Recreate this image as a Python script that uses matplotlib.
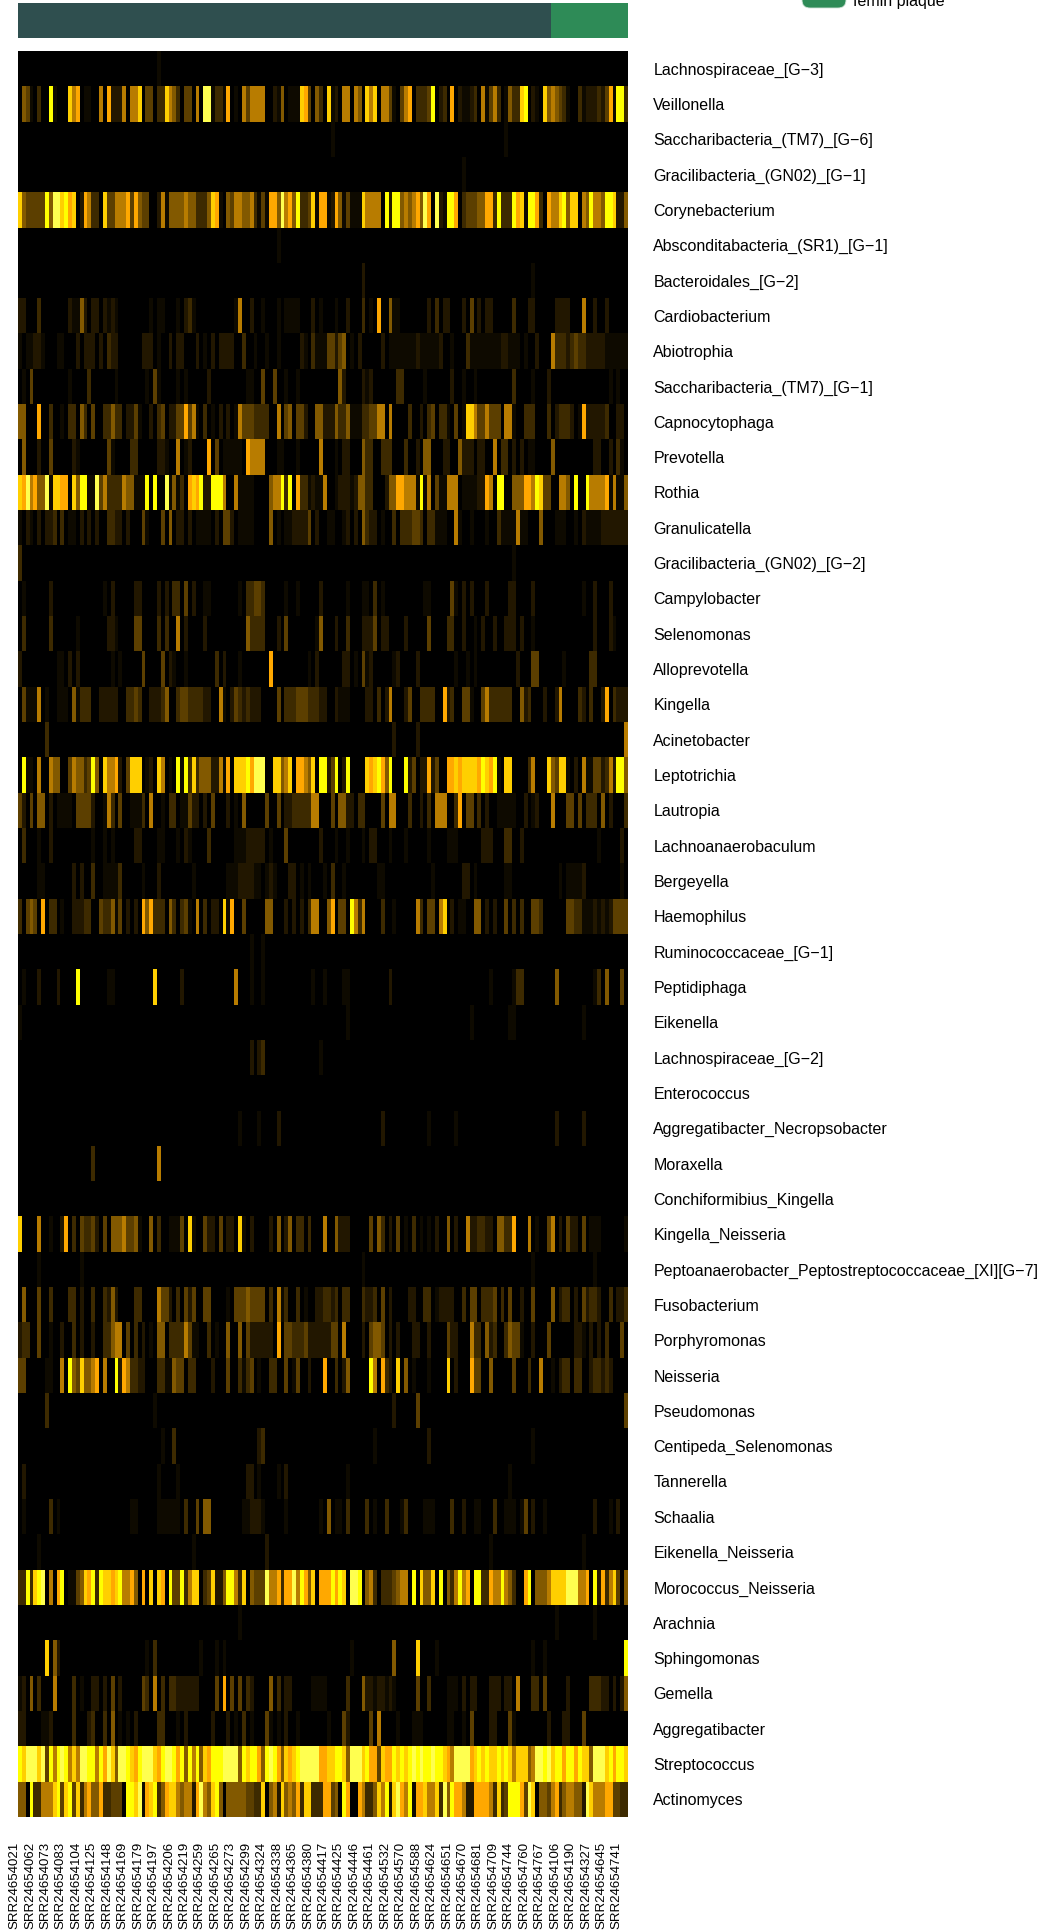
from matplotlib import pyplot as plt
from matplotlib.colors import LinearSegmentedColormap, ListedColormap
from matplotlib.patches import FancyBboxPatch
from matplotlib.transforms import ScaledTranslation
import numpy as np

plt.rcParams['font.family'] = ['Liberation Sans', 'DejaVu Sans']

W, H = 1054, 1932
N_COLS = 158

genera = ['Lachnospiraceae_[G−3]', 'Veillonella', 'Saccharibacteria_(TM7)_[G−6]', 'Gracilibacteria_(GN02)_[G−1]',
	'Corynebacterium', 'Absconditabacteria_(SR1)_[G−1]', 'Bacteroidales_[G−2]', 'Cardiobacterium', 'Abiotrophia',
	'Saccharibacteria_(TM7)_[G−1]', 'Capnocytophaga', 'Prevotella', 'Rothia', 'Granulicatella',
	'Gracilibacteria_(GN02)_[G−2]', 'Campylobacter', 'Selenomonas', 'Alloprevotella', 'Kingella', 'Acinetobacter',
	'Leptotrichia', 'Lautropia', 'Lachnoanaerobaculum', 'Bergeyella', 'Haemophilus', 'Ruminococcaceae_[G−1]',
	'Peptidiphaga', 'Eikenella', 'Lachnospiraceae_[G−2]', 'Enterococcus', 'Aggregatibacter_Necropsobacter',
	'Moraxella', 'Conchiformibius_Kingella', 'Kingella_Neisseria', 'Peptoanaerobacter_Peptostreptococcaceae_[XI][G−7]',
	'Fusobacterium', 'Porphyromonas', 'Neisseria', 'Pseudomonas', 'Centipeda_Selenomonas', 'Tannerella', 'Schaalia',
	'Eikenella_Neisseria', 'Morococcus_Neisseria', 'Arachnia', 'Sphingomonas', 'Gemella', 'Aggregatibacter',
	'Streptococcus', 'Actinomyces']

sample_labels = ['SRR24654021', 'SRR24654062', 'SRR24654073', 'SRR24654083', 'SRR24654104', 'SRR24654125', 'SRR24654148',
	'SRR24654169', 'SRR24654179', 'SRR24654197', 'SRR24654206', 'SRR24654219', 'SRR24654259', 'SRR24654265',
	'SRR24654273', 'SRR24654299', 'SRR24654324', 'SRR24654338', 'SRR24654365', 'SRR24654380', 'SRR24654417',
	'SRR24654425', 'SRR24654446', 'SRR24654461', 'SRR24654532', 'SRR24654570', 'SRR24654588', 'SRR24654624',
	'SRR24654651', 'SRR24654670', 'SRR24654681', 'SRR24654709', 'SRR24654744', 'SRR24654760', 'SRR24654767',
	'SRR24654106', 'SRR24654190', 'SRR24654327', 'SRR24654645', 'SRR24654741']

# group annotation on top: samples per group
group_counts = [138, 20]
group_colors = ['#2f4f4f', '#2e8b57']

# intensity read by eye, one hex digit per sample (0 = black, a = palest yellow), blocks of ten samples
dense = {
	'Veillonella': '0541030091 0008670110 0607222606 6804403386 53044060aa 1331701064 6666002150 1118740530 8120660650 8680664104 6703334902 3070211230 6146301533 8902108565 4310031222 32471993',
	'Corynebacterium': '854444495a a897802763 3084466674 7544002615 5556553335 8710546655 63141775a6 7593348177 1275141118 6666092995 65675a70a2 1997034445 5773933397 8199730766 8958806596 65998225',
	'Cardiobacterium': '2200030000 0002115202 2021210000 0000101100 0102310000 0000001600 2001000101 1110002010 0010020003 0107005110 0000002030 2200020402 0220000030 0022000002 2220006002 00200000',
	'Abiotrophia': '1011221000 1100020222 0203220000 0022201002 0220002010 2022220030 0100100100 0002103111 4424501020 0000201111 1112111112 0010003111 1111122111 0100200063 3323433222 22111111',
	'Saccharibacteria_(TM7)_[G−1]': '0104000000 0001000030 0000010000 0001041000 0101000002 0000000001 1004004001 0010000000 0005200002 1200000033 0000010000 0020010010 0000000030 0001000200 0000000000 00010100',
	'Capnocytophaga': '5500070030 0103305304 0033533022 4100203402 2447461030 1020201644 4333300604 5044200552 2253351113 3446606000 0300203403 3104018864 4644406610 0333000302 3332017222 22300220',
	'Prevotella': '0500020040 0000210000 0004100003 3000002210 0601200007 0401111107 6666000110 0010000060 0010220005 3300333000 3002055000 2200522202 2006033020 2011000050 0000000002 20020310',
	'Rothia': '87a6755a18 8770859911 a463333655 11190900a1 5130787922 9996006111 1000056693 9073312116 0012221255 3300025577 6661916041 1666011112 2760990055 5776984400 6650900966 66716115',
	'Granulicatella': '1021020223 0301102020 2003322020 0041000405 0220201111 0204420111 1000050101 1222240200 1100120205 3220100303 3344303311 1006100100 0100311116 1100050001 1100102111 12222222',
	'Campylobacter': '0100000020 0000000000 0010200000 2200002020 3304020011 0000000103 3443000001 0010000020 0000010001 1030100000 0000011000 0041020200 0200000220 0002000000 0000001002 00020000',
	'Selenomonas': '0300000030 0000010000 0002210000 4400003030 0602000020 0000000005 3333000204 0000000150 0020030002 2240220000 2000004000 0330020010 2002002220 2001000000 0000000002 00021000',
	'Alloprevotella': '2000000000 1102020000 0000101000 0040000402 1001000000 0302000100 0000070000 0000010200 0000220104 1200000120 0002000000 0001001010 0000000002 0004400000 0100000033 00000000',
	'Kingella': '0411160100 1110513330 0222220033 4300222350 0344333322 0061024323 2220000403 3344433322 0021110000 2203026000 2400333300 7230044100 4633333300 5230002002 6000032030 02703222',
	'Leptotrichia': '0911060065 5004655349 5086672048 8801208601 0919383555 2261708889 7aaa008856 8077658099 2490290000 8789759000 9240227240 0778788887 9879108800 0036000854 8810206114 42362995',
	'Lautropia': '4204055020 1111044442 0016304001 1130600103 3011422020 4000201050 0000400402 2333336600 0405522033 0000406600 0300203066 6003704403 0200111110 0201200060 0044040333 05020003',
	'Lachnoanaerobaculum': '0300010020 0000000001 0010100000 2200001100 0102100003 0000001112 2222010004 0000000020 0010010001 0220001000 1000001000 0111000000 2220003300 2000000000 0000000000 10000020',
	'Bergeyella': '0000011000 0000202003 0011113000 0010002000 0000010000 0000111222 2110121000 2201010001 0300100000 0001100000 0000000100 0000022010 0000001100 0000000000 1011112000 00000010',
	'Haemophilus': '3045407033 0100222330 0433514020 2075733305 3034106030 2208170040 0000550002 0202036600 5704409636 0000300100 0006304406 8020110055 0202004030 3004430000 0044331112 12124444',
	'Peptidiphaga': '0100020000 2000090000 0001100000 0000080000 0020000000 0000006000 1001000000 0000001001 0000110000 0000002000 0000000000 0000000000 0010000013 3000000005 0000000001 30500040',
	'Kingella_Neisseria': '8000060010 0270304334 2040555644 5100503001 1140810042 2040220810 2000020502 5033030006 0052220000 0405302040 1030101020 0502006223 3220553370 0060100460 2042204011 10000001',
	'Fusobacterium': '0500040030 0003302003 0032520000 3300006442 0304240044 0000104445 4444030613 0030100223 3230330003 2230402000 0220033012 2220030440 3334030400 2004000050 2330204233 20030223',
	'Porphyromonas': '2330040010 0200302002 0033566040 3020105503 3336411003 0100500504 2222220704 4333422222 2440600002 0455402020 0022002000 0422000633 0523003544 1002000400 0000221020 20300040',
	'Neisseria': '4400000110 0609548556 7060092763 3220003311 5440330000 2000400313 4010033004 0140020007 0030250000 0960732080 5010001000 0802000744 0050000040 0030060010 2330330023 32320000',
	'Schaalia': '0100000030 1000000000 0000000001 1000001111 1103004055 0000000011 2221000001 0000000010 5011030000 3010030001 3000011100 0030020011 0003001110 1402001000 0000000002 00010200',
	'Morococcus_Neisseria': '339389a060 7901145879 3988789667 5070808709 4493688034 8225996380 5444a66737 7a69758077 797980aa90 5630333456 6090855809 0536967099 3376696530 0790555688 88aaa66709 27368405',
	'Gemella': '1205030006 0000301002 2020402000 0043060303 3222222000 0407040403 2000050302 2000001111 0000030005 2212212100 0004003000 0111020220 0022202206 0003304000 0020000033 32202025',
	'Aggregatibacter': '2200001120 0000300023 0030501010 2000003300 0102000000 2000201030 1000410102 0010000000 1000420000 0406000010 0011100000 0110010400 0022000410 0000000200 0220004000 00000000',
	'Streptococcus': '98aaa8a496 9a9686aa99 697a85aa98 79aaa879aa 9795969587 999aaaa598 99759a9758 789aaaaa77 889985aaa8 9774877989 89a9a99a99 876aaaa789 8988989868 8856aa9a89 979979885a aa897998',
	'Actinomyces': '5509336668 9489483675 5733444099 8a17893578 8656627a65 8950555554 4338056285 6573883337 7450970076 33586928a7 6917786683 a597762277 7763834999 74a8055467 3566552a86 66774433',
}

# rows that are nearly empty: sample index -> intensity
sparse = {
	'Lachnospiraceae_[G−3]': {36: 1},
	'Saccharibacteria_(TM7)_[G−6]': {81: 1, 126: 1},
	'Gracilibacteria_(GN02)_[G−1]': {115: 1},
	'Absconditabacteria_(SR1)_[G−1]': {67: 1},
	'Bacteroidales_[G−2]': {89: 2, 133: 1},
	'Gracilibacteria_(GN02)_[G−2]': {0: 3, 128: 1},
	'Acinetobacter': {7: 3, 97: 2, 103: 2, 157: 6},
	'Ruminococcaceae_[G−1]': {60: 1, 63: 1},
	'Eikenella': {0: 1, 85: 1, 117: 1, 127: 1, 128: 1, 146: 1},
	'Lachnospiraceae_[G−2]': {60: 2, 62: 2, 63: 3, 78: 1},
	'Aggregatibacter_Necropsobacter': {57: 1, 62: 1, 67: 2, 94: 2, 106: 1, 113: 1, 139: 2, 146: 2},
	'Moraxella': {19: 3, 36: 6},
	'Peptoanaerobacter_Peptostreptococcaceae_[XI][G−7]': {5: 1, 16: 1, 89: 1, 133: 1, 149: 1},
	'Pseudomonas': {7: 3, 35: 1, 97: 2, 103: 4, 157: 4},
	'Centipeda_Selenomonas': {37: 1, 40: 3, 62: 2, 63: 3, 92: 1, 106: 2, 133: 1},
	'Tannerella': {1: 2, 36: 1, 41: 1, 59: 2, 60: 2, 62: 1, 67: 1, 69: 2, 85: 1, 127: 1},
	'Eikenella_Neisseria': {5: 1, 45: 1, 64: 2, 122: 1, 146: 1},
	'Arachnia': {57: 1, 139: 1, 149: 1},
	'Sphingomonas': {7: 8, 9: 5, 10: 2, 33: 1, 35: 3, 47: 1, 51: 1, 53: 1, 86: 1, 97: 5, 103: 8, 108: 1, 133: 1, 136: 1, 157: 9},
}

level_colors = ['#000000', '#0e0a00', '#221700', '#3d2a00', '#5c3f00', '#825900',
	'#b87c00', '#ffa800', '#ffcf00', '#ffff00', '#ffff50']

matrix = np.zeros((len(genera), N_COLS))
for i, name in enumerate(genera):
	if name in dense:
		digits = [int(c, 16) for c in dense[name].replace(' ', '')][:N_COLS]
		matrix[i, :len(digits)] = digits
	for col, level in sparse.get(name, {}).items():
		matrix[i, col] = level

groups = np.repeat(range(len(group_counts)), group_counts)


def box(left, top, right, bottom):
	# pixel box to figure fraction
	return [left / W, 1 - bottom / H, (right - left) / W, (bottom - top) / H]


fig = plt.figure(figsize=(W / 100, H / 100), dpi=100)

# top annotation bar
ax_top = fig.add_axes(box(18, 3, 628, 38))
ax_top.imshow(groups[np.newaxis, :], aspect='auto', interpolation='nearest', cmap=ListedColormap(group_colors))
ax_top.axis('off')

# heatmap
ax = fig.add_axes(box(18, 51, 628, 1817))
ax.imshow(matrix, aspect='auto', interpolation='nearest', vmin=0, vmax=10,
	cmap=LinearSegmentedColormap.from_list('heat', level_colors, N=11))
for s in ax.spines.values():
	s.set_visible(False)

ax.yaxis.tick_right()
ax.set_yticks(range(len(genera)))
ax.set_yticklabels(genera, fontsize=11.5)
ax.tick_params(axis='y', length=0, pad=18.3)

ax.set_xticks(np.arange(len(sample_labels)) * 4)
ax.set_xticklabels(sample_labels, rotation=90, fontsize=9.5, color='black')
ax.tick_params(axis='x', length=0, pad=18)
ax.set_xlim(-0.5, N_COLS - 0.5)

# sample labels sit a little left of their columns
shift = ScaledTranslation(-5.4 / 100, 0, fig.dpi_scale_trans)
for label in ax.get_xticklabels():
	label.set_transform(label.get_transform() + shift)

# legend sits partly off the top edge of the figure
overlay = fig.add_axes([0, 0, 1, 1], facecolor='none')
overlay.set_xlim(0, W)
overlay.set_ylim(H, 0)
overlay.axis('off')
overlay.add_patch(FancyBboxPatch((802, -40), 44, 48, boxstyle='round,pad=0,rounding_size=8',
	facecolor=group_colors[1], edgecolor='#cfe3d7', lw=0.6))
overlay.text(853, 6, 'femin plaque', fontsize=11.5, ha='left', va='baseline')

plt.savefig('out.png', dpi=100)
